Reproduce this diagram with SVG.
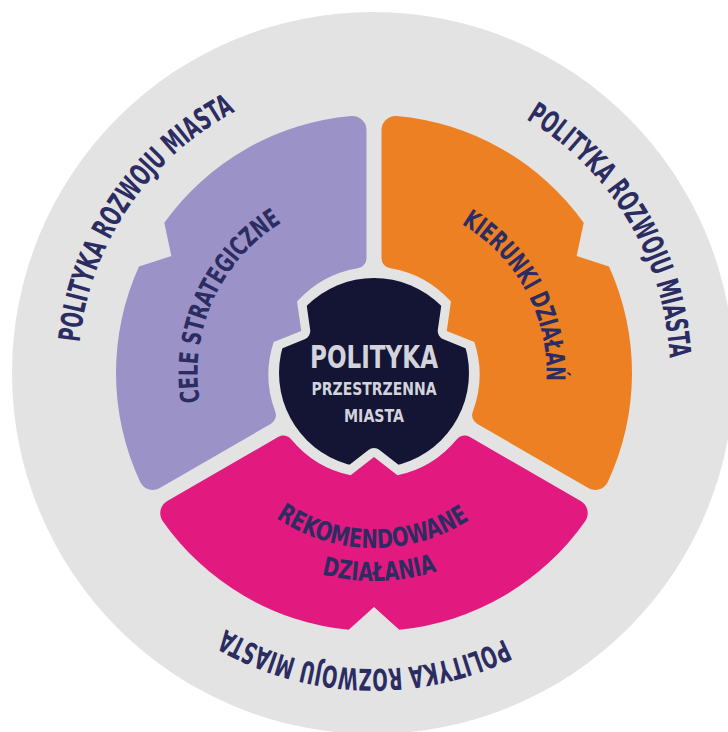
<svg xmlns="http://www.w3.org/2000/svg" width="728" height="732" viewBox="0 0 728 732">
<style>
.lbl{font-family:"DejaVu Sans Condensed","DejaVu Sans","Liberation Sans",sans-serif;font-weight:bold;font-stretch:condensed;fill:#2b2d62}
.ring{font-size:30px}
.seg{font-size:26px}
.ctr{font-family:"DejaVu Sans Condensed","DejaVu Sans","Liberation Sans",sans-serif;font-weight:bold;font-stretch:condensed;fill:#d3d3dc;text-anchor:middle}
.halo{fill:#e3e3e3;stroke:#e3e3e3;stroke-width:18;stroke-linejoin:round}
</style>
<defs>
<path id="seg" d="M211.19,148.18 A258,258 0 0 1 25.28,256.76 L0,234 L-25.28,256.76 A258,258 0 0 1 -211.19,148.18 A14,14 0 0 1 -206.73,128.02 L-95.50,63.80 A10,10 0 0 1 -82.60,66.55 A105,105 0 0 0 -23.40,102.36 L0,84 L23.40,102.36 A105,105 0 0 0 82.60,66.55 A10,10 0 0 1 95.50,63.80 L206.73,128.02 A14,14 0 0 1 211.19,148.18 Z"/>
<path id="arcTL" d="M79.62,403.94 A296,296 0 0 1 292.41,88.47"/>
<path id="arcTR" d="M470.37,93.13 A296,296 0 0 1 666.36,419.30"/>
<path id="arcB" d="M556.24,606.25 A296,296 0 0 1 175.94,592.97"/>
<path id="arcCele" d="M203.92,420.17 A176.5,176.5 0 0 1 298.02,213.69"/>
<path id="arcKier" d="M437.22,212.50 A172.5,172.5 0 0 1 543.04,407.39"/>
<path id="arcRek" d="M260.35,506.07 A175,175 0 0 0 485.31,508.03"/>
<path id="arcDz" d="M244.51,535.78 A208,208 0 0 0 511.82,528.78"/>
</defs>
<rect width="728" height="732" fill="#ffffff"/>
<g id="outer-ring">
<circle cx="373" cy="373" r="361" fill="#e3e3e3"/>
<text class="lbl ring"><textPath href="#arcTL" startOffset="50%" text-anchor="middle" textLength="290" lengthAdjust="spacingAndGlyphs">POLITYKA ROZWOJU MIASTA</textPath></text>
<text class="lbl ring"><textPath href="#arcTR" startOffset="50%" text-anchor="middle" textLength="290" lengthAdjust="spacingAndGlyphs">POLITYKA ROZWOJU MIASTA</textPath></text>
<text class="lbl ring"><textPath href="#arcB" startOffset="50%" text-anchor="middle" textLength="290" lengthAdjust="spacingAndGlyphs">POLITYKA ROZWOJU MIASTA</textPath></text>
</g>
<g id="center">
<circle cx="374" cy="373" r="95" fill="#141535"/>
</g>
<g id="cele-strategiczne">
<use href="#seg" class="halo" transform="translate(374 373) rotate(120)"/>
<use href="#seg" fill="#9b92c7" transform="translate(374 373) rotate(120)"/>
<text class="lbl seg"><textPath href="#arcCele" startOffset="50%" text-anchor="middle" textLength="209" lengthAdjust="spacingAndGlyphs">CELE STRATEGICZNE</textPath></text>
</g>
<g id="kierunki-dzialan">
<use href="#seg" class="halo" transform="translate(374 373) rotate(-120)"/>
<use href="#seg" fill="#ee8024" transform="translate(374 373) rotate(-120)"/>
<text class="lbl seg"><textPath href="#arcKier" startOffset="50%" text-anchor="middle" textLength="187" lengthAdjust="spacingAndGlyphs">KIERUNKI DZIAŁAŃ</textPath></text>
</g>
<g id="rekomendowane-dzialania">
<use href="#seg" class="halo" transform="translate(374 373)"/>
<use href="#seg" fill="#e2197e" transform="translate(374 373)"/>
<text class="lbl seg"><textPath href="#arcRek" startOffset="50%" text-anchor="middle" textLength="205" lengthAdjust="spacingAndGlyphs">REKOMENDOWANE</textPath></text>
<text class="lbl seg"><textPath href="#arcDz" startOffset="50%" text-anchor="middle" textLength="117" lengthAdjust="spacingAndGlyphs">DZIAŁANIA</textPath></text>
</g>
<g id="center-label">
<text class="ctr" x="374" y="368" font-size="31.5" textLength="128" lengthAdjust="spacingAndGlyphs">POLITYKA</text>
<text class="ctr" x="374" y="395" font-size="18.5" textLength="125" lengthAdjust="spacingAndGlyphs">PRZESTRZENNA</text>
<text class="ctr" x="374" y="422" font-size="18.5" textLength="60" lengthAdjust="spacingAndGlyphs">MIASTA</text>
</g>
</svg>
